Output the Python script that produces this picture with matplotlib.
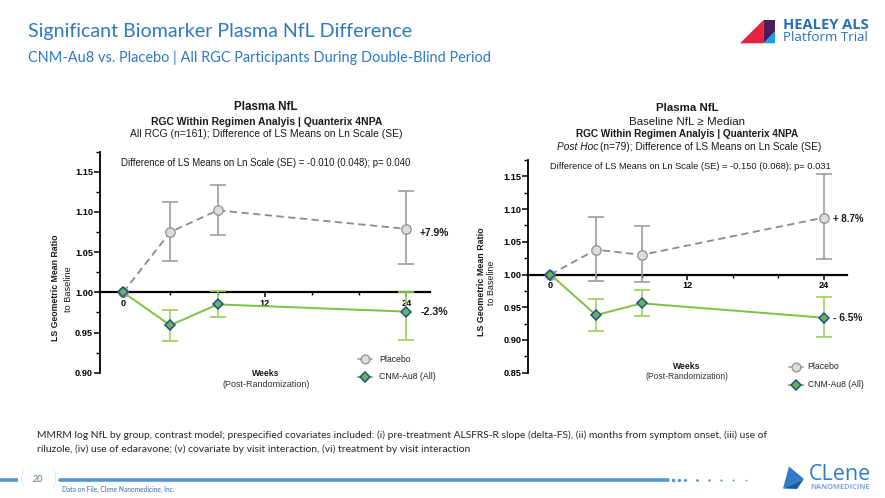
import matplotlib
matplotlib.use("Agg")
import matplotlib.pyplot as plt
from matplotlib.lines import Line2D
from matplotlib.patches import Polygon
from matplotlib.ticker import FixedLocator, MultipleLocator, FormatStrFormatter

# ---------------- data ----------------
weeks = [0, 4, 8, 24]

left_placebo = [1.000, 1.075, 1.102, 1.079]
left_placebo_lo = [1.000, 1.039, 1.071, 1.035]
left_placebo_hi = [1.000, 1.112, 1.133, 1.126]
left_cnm = [1.000, 0.959, 0.985, 0.976]
left_cnm_lo = [1.000, 0.940, 0.969, 0.941]
left_cnm_hi = [1.000, 0.978, 1.002, 1.000]

right_placebo = [1.000, 1.038, 1.030, 1.087]
right_placebo_lo = [1.000, 0.990, 0.988, 1.024]
right_placebo_hi = [1.000, 1.088, 1.074, 1.154]
right_cnm = [1.000, 0.938, 0.956, 0.934]
right_cnm_lo = [1.000, 0.914, 0.937, 0.905]
right_cnm_hi = [1.000, 0.962, 0.976, 0.966]

x_tick_labels = ["0", "12", "24"]
x_major = [0, 12, 24]
x_minor = [4, 8, 16, 20]

left_pct = ["+7.9%", "-2.3%"]
right_pct = ["+ 8.7%", "- 6.5%"]
series_names = ["Placebo", "CNM-Au8 (All)"]

# ---------------- style ----------------
W, H = 885, 498
fig = plt.figure(figsize=(W / 100, H / 100), dpi=100)
fig.patch.set_facecolor("white")
renderer = fig.canvas.get_renderer()

SANS = ["Liberation Sans", "DejaVu Sans"]
SLIDE = ["Lato", "DejaVu Sans"]
BLUE = "#2f78c4"
PL_LINE = "#8a8a8a"
PL_ERR = "#9d9d9d"
PL_FILL = "#dcdcdc"
CN_LINE = "#7cc242"
CN_ERR = "#9bd05a"
CN_FILL = "#6cb35a"
CN_EDGE = "#1f4f8a"


def put(x, y, s, width=None, size=7, ha="center", va="center", family=SANS, **kw):
    t = fig.text(x / W, 1 - y / H, s, ha=ha, va=va, fontsize=size, family=family, **kw)
    if width:
        bb = t.get_window_extent(renderer)
        w = bb.height if kw.get("rotation", 0) == 90 else bb.width
        t.set_fontsize(size * width / w)
    return t


# ---------------- slide header ----------------
put(27.7, 32, "Significant Biomarker Plasma NfL Difference", width=385, size=14,
    ha="left", family=SLIDE, color=BLUE)
put(27.7, 58, "CNM-Au8 vs. Placebo | All RGC Participants During Double-Blind Period",
    width=462, size=10, ha="left", family=SLIDE, color=BLUE)

# HEALEY ALS logo
def px(pts):
    return [(a / W, 1 - b / H) for a, b in pts]

fig.add_artist(Polygon(px([(740, 43.3), (763.5, 20), (763.5, 43.3)]), closed=True,
                       transform=fig.transFigure, color="#e8233f", lw=0))
fig.add_artist(Polygon(px([(763.5, 20), (775, 20), (775, 31.5), (763.5, 43.3)]), closed=True,
                       transform=fig.transFigure, color="#4a1d5c", lw=0))
fig.add_artist(Polygon(px([(763.5, 43.3), (775, 31.5), (775, 43.3)]), closed=True,
                       transform=fig.transFigure, color="#17a2db", lw=0))
put(782.7, 25, "HEALEY ALS", width=85.6, size=9, ha="left", family=["Open Sans", "DejaVu Sans"],
    weight="bold", color="#2a6db5")
put(782.7, 37.5, "Platform Trial", width=85.6, size=9, ha="left",
    family=["Open Sans", "DejaVu Sans"], color="#2a6db5")


# ---------------- charts ----------------
def chart(rect, ylo, pl, pl_lo, pl_hi, cn, cn_lo, cn_hi):
    ax = fig.add_axes(rect)
    ax.set_facecolor("none")
    ax.set_xlim(-2, 26)
    ax.set_ylim(ylo, 1.175)
    for s in ("top", "right"):
        ax.spines[s].set_visible(False)
    ax.spines["bottom"].set_position(("data", 1.0))
    ax.spines["bottom"].set_linewidth(1.6)
    ax.spines["left"].set_linewidth(1.3)
    ax.spines["left"].set_bounds(ylo, 1.175)
    ax.xaxis.set_major_locator(FixedLocator(x_major))
    ax.xaxis.set_minor_locator(FixedLocator(x_minor))
    ax.set_xticklabels(x_tick_labels)
    ax.yaxis.set_major_locator(MultipleLocator(0.05))
    ax.yaxis.set_minor_locator(MultipleLocator(0.025))
    ax.yaxis.set_major_formatter(FormatStrFormatter("%.2f"))
    ax.tick_params(axis="y", which="major", length=4, width=1.1, pad=0.6,
                   labelsize=6.6, direction="out")
    ax.tick_params(axis="y", which="minor", length=2.6, width=1.0, direction="out")
    ax.tick_params(axis="x", which="major", length=3.6, width=1.1, pad=1.2,
                   labelsize=6.6, direction="out")
    ax.tick_params(axis="x", which="minor", length=2.2, width=1.0, direction="out")
    for lab in ax.get_xticklabels() + ax.get_yticklabels():
        lab.set_fontweight("bold")
        lab.set_family(SANS)

    # error bars (no bar at baseline)
    ax.errorbar(weeks[1:], pl[1:],
                yerr=[[p - l for p, l in zip(pl[1:], pl_lo[1:])],
                      [h - p for p, h in zip(pl[1:], pl_hi[1:])]],
                fmt="none", ecolor=PL_ERR, elinewidth=1.2, capsize=6, capthick=1.2, zorder=3)
    ax.errorbar(weeks[1:], cn[1:],
                yerr=[[c - l for c, l in zip(cn[1:], cn_lo[1:])],
                      [h - c for c, h in zip(cn[1:], cn_hi[1:])]],
                fmt="none", ecolor=CN_ERR, elinewidth=1.2, capsize=6, capthick=1.2, zorder=3)
    ax.plot(weeks, pl, color=PL_LINE, lw=1.3, ls=(0, (4, 2.5)), zorder=4)
    ax.plot(weeks, cn, color=CN_LINE, lw=1.4, zorder=4)
    ax.plot(weeks, pl, ls="none", marker="o", ms=6.8, mfc=PL_FILL, mec="#8f8f8f",
            mew=0.9, zorder=5, clip_on=False)
    ax.plot(weeks, cn, ls="none", marker="D", ms=5.6, mfc=CN_FILL, mec=CN_EDGE,
            mew=1.1, zorder=6, clip_on=False)
    return ax


axL = chart([99.5 / W, 1 - 372.7 / H, (430 - 99.5) / W, (372.7 - 151.7) / H], 0.90,
            left_placebo, left_placebo_lo, left_placebo_hi, left_cnm, left_cnm_lo, left_cnm_hi)
axR = chart([527.7 / W, 1 - 372.7 / H, (846.7 - 527.7) / W, (372.7 - 160) / H], 0.85,
            right_placebo, right_placebo_lo, right_placebo_hi, right_cnm, right_cnm_lo, right_cnm_hi)

# ---- left chart texts ----
put(265.8, 107.5, "Plasma NfL", width=63.7, size=9, weight="bold", color="#1a1a1a")
put(266.2, 122.3, "RGC Within Regimen Analyis | Quanterix 4NPA", width=231, size=7,
    weight="bold", color="#1a1a1a")
put(266.7, 134.3, "All RCG (n=161); Difference of LS Means on Ln Scale (SE)", width=272, size=7,
    color="#1a1a1a")
put(265.8, 162.5, "Difference of LS Means on Ln Scale (SE) = -0.010 (0.048); p= 0.040",
    width=288.3, size=6.5, color="#1a1a1a")
put(55, 288, "LS Geometric Mean Ratio", width=106, size=7, rotation=90, weight="bold",
    color="#1a1a1a")
put(68.7, 289, "to Baseline", width=45, size=7, rotation=90, color="#1a1a1a")
put(420, 233.3, left_pct[0], width=29.3, size=7.5, ha="left", weight="bold", color="#1a1a1a")
put(421, 311.7, left_pct[1], width=27.7, size=7.5, ha="left", weight="bold", color="#1a1a1a")
put(265.8, 373.3, "Weeks", width=27, size=6.5, weight="bold", color="#1a1a1a")
put(265.8, 384.2, "(Post-Randomization)", width=86.7, size=6.5, color="#333333")

# ---- right chart texts ----
put(687, 107.8, "Plasma NfL", width=62.7, size=9, weight="bold", color="#1a1a1a")
put(686.7, 121.5, "Baseline NfL \u2265 Median", width=115.7, size=8, color="#1a1a1a")
put(687.5, 134.2, "RGC Within Regimen Analyis | Quanterix 4NPA", width=223, size=7,
    weight="bold", color="#1a1a1a")
ti = put(556.7, 146.7, "Post Hoc", size=7.3, ha="left", style="italic", color="#1a1a1a")
bb = ti.get_window_extent(renderer)
put(bb.x1 + 2.3, 146.7, "(n=79); Difference of LS Means on Ln Scale (SE)", size=7.3,
    ha="left", color="#1a1a1a")
put(690, 166.7, "Difference of LS Means on Ln Scale (SE) = -0.150 (0.068); p= 0.031",
    width=278.7, size=6.5, color="#1a1a1a")
put(481, 282, "LS Geometric Mean Ratio", width=108, size=7, rotation=90, weight="bold",
    color="#1a1a1a")
put(491.5, 282.5, "to Baseline", width=44, size=7, rotation=90, color="#1a1a1a")
put(832.7, 218.7, right_pct[0], width=30.7, size=7.5, ha="left", weight="bold", color="#1a1a1a")
put(833.3, 318, right_pct[1], width=29, size=7.5, ha="left", weight="bold", color="#1a1a1a")
put(687, 366.3, "Weeks", width=27, size=6.5, weight="bold", color="#1a1a1a")
put(687, 376.9, "(Post-Randomization)", width=82.7, size=6.5, color="#333333")


# ---- legends (drawn as keys beside labels) ----
def legend_key(xc, y, kind):
    if kind == 0:
        fig.add_artist(Line2D([(xc - 7) / W, (xc + 7) / W], [1 - y / H] * 2,
                              transform=fig.transFigure, color=PL_ERR, lw=1.1))
        fig.add_artist(Line2D([xc / W], [1 - y / H], transform=fig.transFigure, ls="none",
                              marker="o", ms=6.3, mfc=PL_FILL, mec="#8f8f8f", mew=0.9))
    else:
        fig.add_artist(Line2D([(xc - 7) / W, (xc + 7) / W], [1 - y / H] * 2,
                              transform=fig.transFigure, color=CN_LINE, lw=1.3))
        fig.add_artist(Line2D([xc / W], [1 - y / H], transform=fig.transFigure, ls="none",
                              marker="D", ms=5.3, mfc=CN_FILL, mec=CN_EDGE, mew=1.1))


legend_key(365, 359, 0)
legend_key(365, 376.5, 1)
put(379.3, 359, series_names[0], width=31.3, size=6.5, ha="left", color="#222222")
put(379.3, 376.5, series_names[1], width=56.7, size=6.5, ha="left", color="#222222")
legend_key(796, 366.7, 0)
legend_key(796, 384.7, 1)
put(807.7, 366.7, series_names[0], width=31.7, size=6.5, ha="left", color="#222222")
put(807.7, 384.7, series_names[1], width=55.7, size=6.5, ha="left", color="#222222")

# ---------------- footer ----------------
put(37, 435.5, "MMRM log NfL by group, contrast model; prespecified covariates included: (i) "
    "pre-treatment ALSFRS-R slope (delta-FS), (ii) months from symptom onset, (iii) use of",
    width=736, size=7, ha="left", family=SLIDE, color="#262626")
put(37, 449.3, "riluzole, (iv) use of edaravone; (v) covariate by visit interaction, (vi) "
    "treatment by visit interaction", width=435.5, size=7, ha="left", family=SLIDE,
    color="#262626")

LINE_BLUE = "#5593d3"
fig.add_artist(Line2D([0, 18 / W], [1 - 480 / H] * 2, transform=fig.transFigure,
                      color=LINE_BLUE, lw=2.6, solid_capstyle="butt"))
fig.add_artist(Line2D([60 / W, 668 / W], [1 - 480 / H] * 2, transform=fig.transFigure,
                      color=LINE_BLUE, lw=2.6, solid_capstyle="round"))
for dx, ms in [(673, 2.6), (679, 2.4), (685, 2.2), (697, 2.0), (709, 1.8), (721, 1.6),
               (733, 1.4), (746, 1.2)]:
    fig.add_artist(Line2D([dx / W], [1 - 480 / H], transform=fig.transFigure, ls="none",
                          marker="o", ms=ms, mfc=LINE_BLUE, mec="none"))
put(22, 479, "(", size=15, family=SLIDE, color="#8aa4c4", weight="light")
put(54, 479, ")", size=15, family=SLIDE, color="#8aa4c4", weight="light")
put(38, 479, "20", size=6.5, family=SLIDE, color="#5c6f86")
put(61.7, 489.3, "Data on File, Clene Nanomedicine, Inc.", width=114, size=5, ha="left",
    family=SLIDE, color="#3b6aa8")

# Clene logo
fig.add_artist(Polygon(px([(783, 488.5), (789, 466.5), (804, 479)]), closed=True,
                       transform=fig.transFigure, color="#2f7bc8", lw=0))
fig.add_artist(Polygon(px([(783, 488.5), (804, 479), (797, 489)]), closed=True,
                       transform=fig.transFigure, color="#1d5b9e", lw=0))
put(808.3, 471.5, "CLene", width=62, size=13, ha="left", va="center_baseline",
    family=["Open Sans", "DejaVu Sans"], color="#2f7bc8")
put(810.7, 487, "NANOMEDICINE", width=60, size=5, ha="left",
    family=["Open Sans", "DejaVu Sans"], weight="bold", color="#7fa8d6")

fig.savefig("out.png", dpi=100, facecolor=fig.get_facecolor())
